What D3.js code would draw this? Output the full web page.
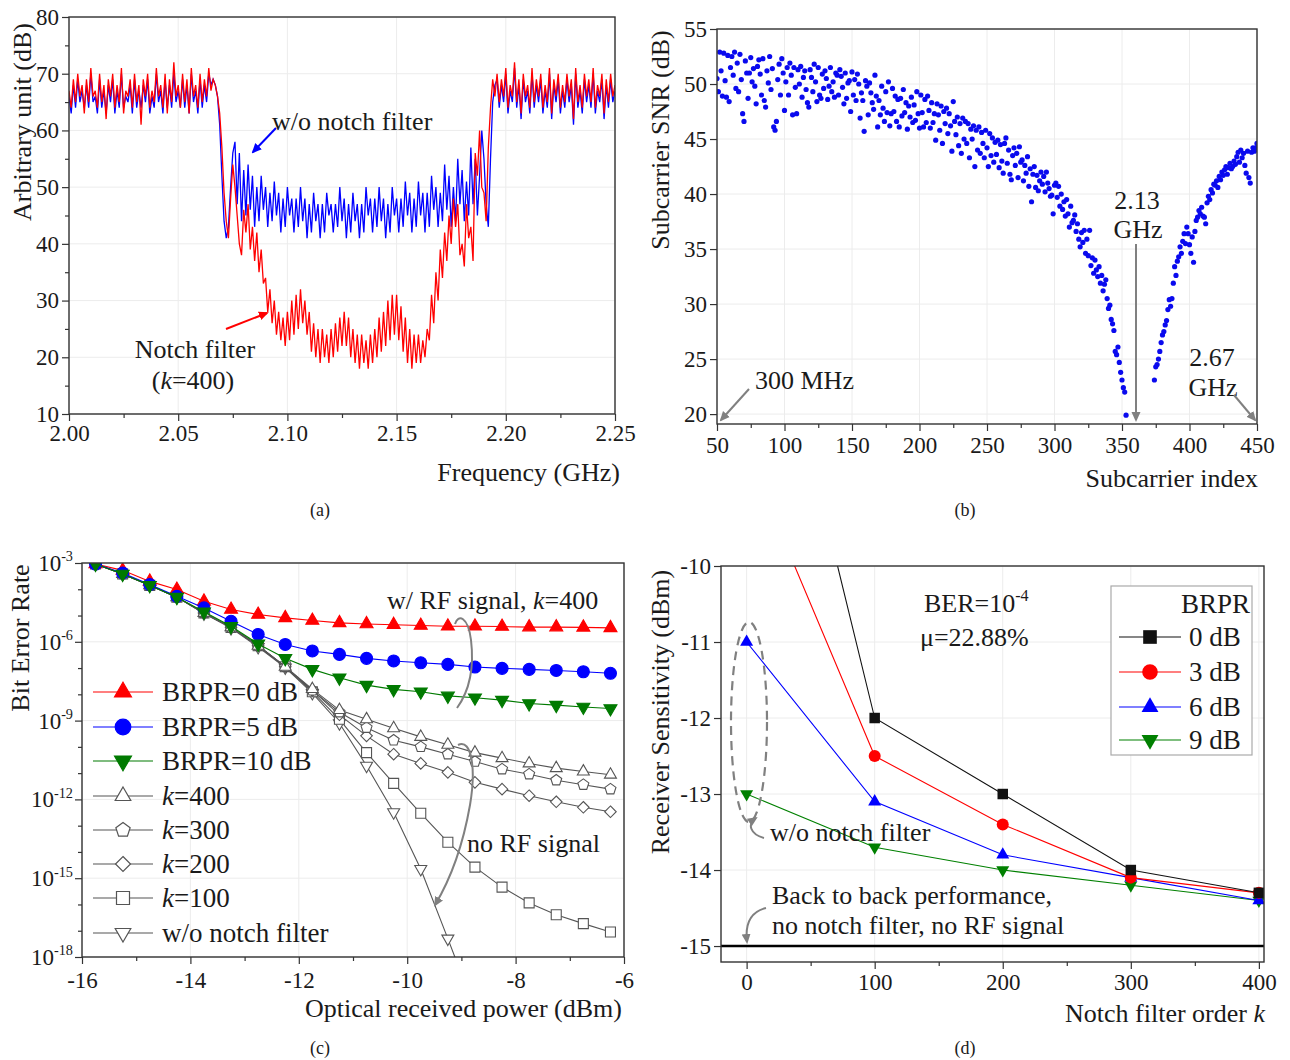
<!DOCTYPE html>
<html><head><meta charset="utf-8"><title>Notch filter results</title>
<script src="https://cdn.jsdelivr.net/npm/d3@7"></script>
<style>
html,body{margin:0;padding:0;background:#fff}
svg text{font-family:"Liberation Serif","Times New Roman",Times,serif;fill:#1a1a1a}
</style></head><body>
<script>
// ================= DATA =================
// (a) spectrum, sampled every 1 MHz from 2.000 to 2.250 GHz (dB)
const FREQ_START = 2.0, FREQ_END = 2.25;
const blueSpecLeft = [66,63,68,64,69,65,67,64,68,64,70,65,66,63,69,64,67,63,68,65,69,63,67,64,70,64,66,65,68,63,
  69,64,67,64,68,65,69,63,66,64,70,65,67,63,69,64,68,64,70,65,67,64,69,64,68,63,70,65,67,63,
  69,64,68,65,70,68,69,68];
const blueSpecNotch = [66,61,52,44,41,43,50,56,
  58,47,56,44,53,45, 54,46,52,43,50,44, 52,46,50,43,49,44, 51,45,49,42,48,43, 50,45,48,42,48,43,
  50,44,48,41,47,42, 49,44,47,41,47,42, 49,45,47,42,47,43, 50,44,48,41,47,42, 49,44,47,41,47,42,
  50,45,48,42,48,43, 50,44,48,41,47,42, 50,45,48,42,48,43, 51,45,49,42,48,43, 51,45,49,42,49,43,
  52,46,50,43,49,44, 54,46,52,43,50,44, 55,47,53,44,51,45, 57,47,55,45,52,60, 55,47,43,55,65,68];
const blueSpecRight = [69,64,68,65,70,63,67,65,71,64,68,62,69,65,67,63,70,64,68,65,69,63,67,64,70,62,68,65,69,63,
  67,64,69,65,68,61,70,64,67,63,69,65,68,64,70,63,67,65,69,62,68,64,69,65,67];
const redSpecLeft = [67,64,69,65,70,66,68,63,69,65,71,66,67,64,70,65,68,62,69,66,70,64,68,65,71,63,67,66,69,64,
  70,65,68,61,69,66,70,64,67,65,71,66,68,64,70,63,69,65,72,66,68,64,70,65,69,63,71,66,68,64,
  70,65,69,66,71,67,69,68];
const redSpecNotch = [66,63,57,49,44, 41,48,54,50,45,40,38,
  46,42,47,39,43,37,42,35,39,33, 34,28,32,26,30,24,28,23,27,22, 28,23,30,24,31,25,32,26,30,24,
  28,21,26,20,25,19,25,20,24,19, 25,20,26,21,27,22,28,22,27,20, 25,19,24,18,24,19,23,18,24,19,
  25,20,27,21,28,22,30,23,31,24, 31,23,29,21,27,19,25,18,24,19, 24,19,23,20,25,23,31,26,35,30,
  39,34,42,37,45,40,48,43,47,38, 40,36,47,41,43,37,56,52,60,50, 49,44,57,64,69,66];
const redSpecRight = [70,65,69,66,71,64,68,66,72,65,69,63,70,66,68,64,71,65,69,66,70,64,68,65,71,63,69,66,70,64,
  68,65,70,66,69,62,71,65,68,64,70,66,69,65,71,64,68,66,70,63,69,65,70,66,68];

// (b) subcarrier SNR (dB): indices 50..353 and 374..450
const snrLeftStart = 50;
const snrLeft = [
  50.5,49.3,52.9,51.2,48.9,52.8,50.3,48.8,52.6,48.4,
  51.5,52.5,50.8,52.9,49.6,51.9,49.3,52.7,50.4,47.3,
  46.6,52.1,51.0,48.7,51.0,52.4,50.2,51.4,49.8,48.2,
  51.6,52.2,50.9,49.0,52.3,48.5,47.9,51.2,50.1,52.5,
  49.5,51.4,46.1,45.8,46.6,50.4,51.8,49.0,52.3,51.0,
  47.6,50.2,51.5,49.0,51.9,50.8,47.2,51.5,49.7,47.3,
  51.3,50.0,51.6,48.8,50.6,51.2,49.5,48.3,47.9,51.3,
  50.6,49.3,51.8,50.2,48.4,51.5,49.0,48.7,50.9,49.6,
  51.2,50.5,48.6,49.8,51.5,49.3,50.2,48.8,51.0,50.8,
  49.0,51.3,50.7,49.7,48.2,51.0,48.7,50.1,50.3,47.5,
  51.1,49.0,50.4,48.5,50.9,50.0,46.9,49.2,48.5,45.7,
  50.3,49.8,47.2,50.1,49.2,48.3,47.7,50.8,48.9,46.1,
  48.5,47.2,49.8,47.8,46.6,49.3,47.4,50.2,46.2,47.3,
  49.6,47.5,48.9,46.6,48.6,46.1,48.7,47.1,49.5,47.4,
  48.3,45.9,48.0,47.0,48.8,46.5,48.1,46.7,49.3,47.3,
  46.0,49.0,47.4,46.1,48.6,46.5,48.9,47.6,46.0,48.3,
  46.5,47.3,44.9,48.2,47.2,45.8,48.0,44.6,47.5,46.4,
  47.8,45.5,47.3,46.2,43.9,48.4,46.6,45.4,47.0,44.4,
  46.4,43.7,46.9,45.0,46.6,44.6,46.4,43.3,45.9,45.0,
  46.2,42.5,45.8,44.0,46.1,43.7,45.6,44.6,43.3,45.8,
  44.2,42.5,45.5,43.5,45.1,42.9,44.7,43.6,44.9,42.4,
  44.5,43.0,41.9,44.6,45.1,42.8,44.0,41.8,41.3,43.5,
  44.2,42.6,43.7,41.5,44.3,42.9,43.1,41.2,42.6,41.9,
  43.4,40.7,42.3,39.3,41.8,42.5,40.6,41.7,40.3,41.2,
  42.0,40.9,41.6,40.2,42.0,41.0,40.5,39.8,39.9,38.2,
  40.8,41.0,39.7,40.7,38.9,40.0,38.6,39.3,38.0,39.5,
  38.2,37.0,38.9,37.4,37.6,38.1,36.6,37.3,35.9,35.2,
  36.5,35.6,36.7,34.6,35.9,34.4,36.7,33.5,34.2,32.8,
  34.0,33.1,32.5,33.4,31.9,32.6,31.2,31.8,32.2,30.5,
  29.6,29.9,28.6,28.2,27.6,25.7,25.4,26.1,24.7,23.8,
  23.1,22.4,22.0,19.9];
const snrRightStart = 374;
const snrRight = [
  23.1,24.3,24.5,25.0,25.7,26.5,27.2,27.5,28.1,28.5,
  29.5,30.4,29.8,30.5,31.9,33.4,32.6,33.9,34.3,35.2,
  34.6,35.7,36.4,35.5,37.0,36.4,35.4,34.6,36.1,33.8,
  36.6,37.6,37.9,38.5,38.2,38.8,38.0,37.9,37.3,39.2,
  39.8,39.5,40.4,40.1,40.9,40.8,41.2,40.6,41.6,41.3,
  42.0,41.7,42.2,42.5,41.8,42.4,42.8,42.3,42.5,43.0,
  42.7,43.4,43.8,42.9,44.0,43.3,43.7,42.6,41.9,43.9,
  41.5,41.0,43.8,44.2,43.9,44.2,44.6];

// (c) BER vs optical received power; values are log10(BER)
const powerC = [-15.75,-15.25,-14.75,-14.25,-13.75,-13.25,-12.75,-12.25,-11.75,-11.25,
                -10.75,-10.25,-9.75,-9.25,-8.75,-8.25,-7.75,-7.25,-6.75,-6.25];
const berBRPR0  = [-3.04,-3.28,-3.70,-4.01,-4.46,-4.77,-4.96,-5.09,-5.19,-5.28,-5.32,-5.35,-5.38,-5.41,-5.41,-5.42,-5.44,-5.44,-5.45,-5.47];
const berBRPR5  = [-3.04,-3.38,-3.82,-4.27,-4.71,-5.22,-5.72,-6.10,-6.35,-6.48,-6.63,-6.73,-6.80,-6.86,-6.96,-7.01,-7.05,-7.09,-7.14,-7.20];
const berBRPR10 = [-3.04,-3.42,-3.85,-4.30,-4.86,-5.41,-6.08,-6.63,-7.05,-7.37,-7.65,-7.81,-7.90,-8.06,-8.13,-8.22,-8.35,-8.41,-8.48,-8.54];
const berK400   = [-3.04,-3.42,-3.85,-4.30,-4.90,-5.45,-6.15,-6.95,-7.80,-8.60,-8.95,-9.29,-9.62,-9.92,-10.22,-10.43,-10.63,-10.81,-10.94,-11.06];
const berK300   = [-3.04,-3.42,-3.85,-4.30,-4.90,-5.45,-6.15,-6.95,-7.85,-8.68,-9.27,-9.75,-10.00,-10.28,-10.56,-10.85,-11.04,-11.27,-11.44,-11.61];
const berK200   = [-3.04,-3.42,-3.85,-4.30,-4.90,-5.45,-6.15,-6.95,-7.85,-8.78,-9.58,-10.28,-10.63,-10.97,-11.35,-11.61,-11.86,-12.09,-12.30,-12.47];
const berK100   = [-3.04,-3.42,-3.85,-4.30,-4.90,-5.45,-6.15,-6.95,-7.90,-8.95,-10.22,-11.39,-12.53,-13.63,-14.58,-15.34,-15.94,-16.39,-16.73,-17.05];
const berNoNotch= [-3.04,-3.42,-3.85,-4.30,-4.92,-5.48,-6.20,-6.98,-7.95,-9.10,-10.72,-12.49,-14.65,-17.30,-20.0];

// (d) receiver sensitivity (dBm) vs notch filter order k
const orderK = [0,100,200,300,400];
const sens0dB = [-5.1,-12.0,-13.0,-14.0,-14.3];
const sens3dB = [-8.5,-12.5,-13.4,-14.1,-14.3];
const sens6dB = [-11.0,-13.1,-13.8,-14.1,-14.4];
const sens9dB = [-13.0,-13.7,-14.0,-14.2,-14.4];
const backToBack = -15;

// tick values
const ticksA_x = [2.00,2.05,2.10,2.15,2.20,2.25], ticksA_xMinor = [2.025,2.075,2.125,2.175,2.225];
const ticksA_y = [10,20,30,40,50,60,70,80], ticksA_yMinor = [15,25,35,45,55,65,75];
const ticksB_x = [50,100,150,200,250,300,350,400,450], ticksB_xMinor = [75,125,175,225,275,325,375,425];
const ticksB_y = [20,25,30,35,40,45,50,55];
const ticksC_x = [-16,-14,-12,-10,-8,-6], ticksC_xMinor = [-15,-13,-11,-9,-7];
const ticksC_yExp = [-3,-6,-9,-12,-15,-18], ticksC_yMinorExp = [-4,-5,-7,-8,-10,-11,-13,-14,-16,-17];
const ticksD_x = [0,100,200,300,400], ticksD_xMinor = [50,150,250,350];
const ticksD_y = [-10,-11,-12,-13,-14,-15];

// ================= DRAWING =================
const FONT = "'Liberation Serif','Times New Roman',Times,serif";
const svg = d3.select("body").append("svg").attr("width",1290).attr("height",1060);
svg.append("rect").attr("width",1290).attr("height",1060).attr("fill","#fff");
const defs = svg.append("defs");
function arrowDef(id,color){
  defs.append("marker").attr("id",id).attr("viewBox","0 0 10 10").attr("refX",8).attr("refY",5)
    .attr("markerWidth",5).attr("markerHeight",5).attr("orient","auto")
    .append("path").attr("d","M0,0.5 L10,5 L0,9.5 Z").attr("fill",color);
}
arrowDef("arGray","#808080"); arrowDef("arBlue","#0000ff"); arrowDef("arRed","#ff0000");

let clipN = 0;
function panel(x,y){
  const g = svg.append("g");
  const [xl,xr] = x.range(), [yb,yt] = y.range();
  const id = "clip"+(clipN++);
  defs.append("clipPath").attr("id",id).append("rect").attr("x",xl).attr("y",yt).attr("width",xr-xl).attr("height",yb-yt);
  const grid = g.append("g").attr("stroke","#ececec").attr("stroke-width",1);
  const plot = g.append("g").attr("clip-path",`url(#${id})`);
  const axes = g.append("g");
  const ann = g.append("g");
  return {g,grid,plot,axes,ann,x,y,xl,xr,yb,yt};
}
function gridLines(p,xv,yv){
  p.grid.selectAll(null).data(xv).join("line").attr("x1",d=>p.x(d)).attr("x2",d=>p.x(d)).attr("y1",p.yb).attr("y2",p.yt);
  p.grid.selectAll(null).data(yv).join("line").attr("x1",p.xl).attr("x2",p.xr).attr("y1",d=>p.y(d)).attr("y2",d=>p.y(d));
}
const blank = () => "";
function styleAxis(sel){
  sel.attr("font-family",FONT).attr("font-size",23);
  sel.select(".domain").remove();
  sel.selectAll(".tick line").attr("stroke","#333").attr("stroke-width",1.2);
  sel.selectAll(".tick text").attr("fill","#1a1a1a");
}
function drawAxes(p,o){
  if(o.xMinor) p.axes.append("g").attr("transform",`translate(0,${p.yb})`)
    .call(d3.axisBottom(p.x).tickValues(o.xMinor).tickSize(4).tickSizeOuter(0).tickFormat(blank)).call(styleAxis);
  p.axes.append("g").attr("transform",`translate(0,${p.yb})`)
    .call(d3.axisBottom(p.x).tickValues(o.xMajor).tickSize(7).tickSizeOuter(0).tickPadding(o.padX).tickFormat(o.xFmt)).call(styleAxis);
  if(o.yMinor) p.axes.append("g").attr("transform",`translate(${p.xl},0)`)
    .call(d3.axisLeft(p.y).tickValues(o.yMinor).tickSize(4).tickSizeOuter(0).tickFormat(blank)).call(styleAxis);
  p.axes.append("g").attr("transform",`translate(${p.xl},0)`)
    .call(d3.axisLeft(p.y).tickValues(o.yMajor).tickSize(7).tickSizeOuter(0).tickPadding(o.padY).tickFormat(o.yFmt)).call(styleAxis);
  p.axes.append("rect").attr("x",p.xl).attr("y",p.yt).attr("width",p.xr-p.xl).attr("height",p.yb-p.yt)
    .attr("fill","none").attr("stroke","#333").attr("stroke-width",1.4);
}
function txt(parent,x,y,str,opt={}){
  const t = parent.append("text").attr("x",x).attr("y",y).attr("font-size",opt.size||26)
    .attr("text-anchor",opt.anchor||"start");
  if(opt.rotate) t.attr("transform",`rotate(-90,${x},${y})`);
  return t.text(str);
}
function rich(parent,x,y,parts,opt={}){
  const t = parent.append("text").attr("x",x).attr("y",y).attr("font-size",opt.size||26)
    .attr("text-anchor",opt.anchor||"start");
  if(opt.rotate) t.attr("transform",`rotate(-90,${x},${y})`);
  parts.forEach(([s,k])=>{
    const ts = t.append("tspan").text(s);
    if(k==="i") ts.attr("font-style","italic");
    if(k==="sup") ts.attr("font-size",(opt.size||26)*0.62).attr("dy",-(opt.size||26)*0.42);
  });
  return t;
}
function shape(type,w){
  const r = w/2;
  if(type==="circle") return d3.symbol(d3.symbolCircle, Math.PI*r*r)();
  if(type==="triUp"||type==="triDown"){
    const h = w*0.866, s = type==="triUp"?1:-1;
    return `M0,${-s*2*h/3}L${r},${s*h/3}L${-r},${s*h/3}Z`;
  }
  if(type==="square") return `M${-r},${-r}H${r}V${r}H${-r}Z`;
  if(type==="diamond") return `M0,${-r*1.05}L${r*1.05},0L0,${r*1.05}L${-r*1.05},0Z`;
  if(type==="pentagon"){
    const R = r*1.05;
    return d3.range(5).map(k=>{const a=(-90+72*k)*Math.PI/180;return (k?"L":"M")+(R*Math.cos(a)).toFixed(2)+","+(R*Math.sin(a)).toFixed(2);}).join("")+"Z";
  }
}

// ---------- (a) ----------
const xA = d3.scaleLinear().domain([FREQ_START,FREQ_END]).range([69,615]);
const yA = d3.scaleLinear().domain([10,80]).range([414,17]);
const pA = panel(xA,yA);
gridLines(pA,ticksA_x,ticksA_y);
const blueSpec = blueSpecLeft.concat(blueSpecNotch,blueSpecRight);
const redSpec = redSpecLeft.concat(redSpecNotch,redSpecRight);
function specLine(arr){
  const step = (FREQ_END-FREQ_START)/(arr.length-1);
  return d3.line().x((d,i)=>xA(FREQ_START+i*step)).y(d=>yA(d))(arr);
}
pA.plot.append("path").attr("d",specLine(blueSpec)).attr("fill","none").attr("stroke","#0000ff").attr("stroke-width",1.3);
pA.plot.append("path").attr("d",specLine(redSpec)).attr("fill","none").attr("stroke","#ff0000").attr("stroke-width",1.3);
drawAxes(pA,{xMajor:ticksA_x,xMinor:ticksA_xMinor,yMajor:ticksA_y,yMinor:ticksA_yMinor,padX:4,padY:3,
  xFmt:d3.format(".2f"),yFmt:d=>String(d)});
txt(pA.ann,272,130,"w/o notch filter");
pA.ann.append("line").attr("x1",276).attr("y1",128).attr("x2",253).attr("y2",152).attr("stroke","#0000ff").attr("stroke-width",2).attr("marker-end","url(#arBlue)");
pA.ann.append("line").attr("x1",226).attr("y1",329).attr("x2",267).attr("y2",313).attr("stroke","#ff0000").attr("stroke-width",2).attr("marker-end","url(#arRed)");
txt(pA.ann,195,358,"Notch filter",{anchor:"middle"});
rich(pA.ann,193,389,[["(",""],["k","i"],["=400)",""]],{anchor:"middle"});
rich(pA.ann,31,122,[["Arbitrary unit (dB)",""]],{anchor:"middle",rotate:true});
txt(pA.ann,620,481,"Frequency (GHz)",{anchor:"end"});
txt(pA.ann,320,516,"(a)",{anchor:"middle",size:18});

// ---------- (b) ----------
const xB = d3.scaleLinear().domain([50,450]).range([717,1257]);
const yB = d3.scaleLinear().domain([19.1,55]).range([424,29]);
const pB = panel(xB,yB);
gridLines(pB,ticksB_x,ticksB_y);
const snrPts = snrLeft.map((v,i)=>[snrLeftStart+i,v]).concat(snrRight.map((v,i)=>[snrRightStart+i,v]));
pB.plot.selectAll(null).data(snrPts).join("circle").attr("cx",d=>xB(d[0])).attr("cy",d=>yB(d[1])).attr("r",2.6).attr("fill","#0a0aee");
drawAxes(pB,{xMajor:ticksB_x,xMinor:ticksB_xMinor,yMajor:ticksB_y,padX:6,padY:3,xFmt:d=>String(d),yFmt:d=>String(d)});
txt(pB.ann,755,389,"300 MHz");
pB.ann.append("line").attr("x1",749).attr("y1",389).attr("x2",721).attr("y2",420).attr("stroke","#808080").attr("stroke-width",2).attr("marker-end","url(#arGray)");
txt(pB.ann,1137,209,"2.13",{anchor:"middle"});
txt(pB.ann,1138,238,"GHz",{anchor:"middle"});
pB.ann.append("line").attr("x1",1136).attr("y1",244).attr("x2",1136).attr("y2",420).attr("stroke","#808080").attr("stroke-width",2).attr("marker-end","url(#arGray)");
txt(pB.ann,1212,366,"2.67",{anchor:"middle"});
txt(pB.ann,1213,396,"GHz",{anchor:"middle"});
pB.ann.append("line").attr("x1",1234).attr("y1",395).attr("x2",1255).attr("y2",420).attr("stroke","#808080").attr("stroke-width",2).attr("marker-end","url(#arGray)");
rich(pB.ann,669,140,[["Subcarrier SNR (dB)",""]],{anchor:"middle",rotate:true});
txt(pB.ann,1258,487,"Subcarrier index",{anchor:"end"});
txt(pB.ann,965,516,"(b)",{anchor:"middle",size:18});

// ---------- (c) ----------
const xC = d3.scaleLinear().domain([-16,-6]).range([82,624]);
const yC = d3.scaleLog().domain([1e-18,1e-3]).range([957,563]);
const pC = panel(xC,yC);
gridLines(pC,ticksC_x,ticksC_yExp.map(e=>Math.pow(10,e)));
const seriesC = [
  {name:"w/o notch filter", v:berNoNotch, color:"#555", mk:"triDown", fill:"#fff", w:12},
  {name:"k=100", v:berK100, color:"#555", mk:"square", fill:"#fff", w:10},
  {name:"k=200", v:berK200, color:"#555", mk:"diamond", fill:"#fff", w:11},
  {name:"k=300", v:berK300, color:"#555", mk:"pentagon", fill:"#fff", w:11},
  {name:"k=400", v:berK400, color:"#555", mk:"triUp", fill:"#fff", w:12},
  {name:"BRPR=0 dB", v:berBRPR0, color:"#ff0000", mk:"triUp", fill:"#ff0000", w:13},
  {name:"BRPR=5 dB", v:berBRPR5, color:"#0000ff", mk:"circle", fill:"#0000ff", w:12},
  {name:"BRPR=10 dB", v:berBRPR10, color:"#007a00", mk:"triDown", fill:"#007a00", w:13}
];
const lineC = d3.line().x((d,i)=>xC(powerC[i])).y(d=>yC(Math.pow(10,d)));
seriesC.forEach(s=>{
  pC.plot.append("path").attr("d",lineC(s.v)).attr("fill","none").attr("stroke",s.color).attr("stroke-width",1.1);
  pC.plot.selectAll(null).data(s.v).join("path").attr("d",shape(s.mk,s.w))
    .attr("transform",(d,i)=>`translate(${xC(powerC[i])},${yC(Math.pow(10,d))})`)
    .attr("fill",s.fill).attr("stroke",s.fill==="#fff"?"#555":s.color).attr("stroke-width",1.1);
});
drawAxes(pC,{xMajor:ticksC_x,xMinor:ticksC_xMinor,yMajor:ticksC_yExp.map(e=>Math.pow(10,e)),
  yMinor:ticksC_yMinorExp.map(e=>Math.pow(10,e)),padX:8,padY:3,xFmt:d=>String(d),yFmt:blank});
ticksC_yExp.forEach(e=>{
  rich(pC.axes,73,yC(Math.pow(10,e))+8,[["10",""],[String(e),"sup"]],{anchor:"end",size:23});
});
const legC = [
  {lab:[["BRPR=0 dB",""]], s:seriesC[5]},
  {lab:[["BRPR=5 dB",""]], s:seriesC[6]},
  {lab:[["BRPR=10 dB",""]], s:seriesC[7]},
  {lab:[["k","i"],["=400",""]], s:seriesC[4]},
  {lab:[["k","i"],["=300",""]], s:seriesC[3]},
  {lab:[["k","i"],["=200",""]], s:seriesC[2]},
  {lab:[["k","i"],["=100",""]], s:seriesC[1]},
  {lab:[["w/o notch filter",""]], s:seriesC[0]}
];
const legCy = [692,727,761,796,830,864,898,933];
legC.forEach((L,i)=>{
  const y = legCy[i];
  pC.ann.append("line").attr("x1",93).attr("x2",153).attr("y1",y).attr("y2",y).attr("stroke",L.s.color).attr("stroke-width",1.2);
  pC.ann.append("path").attr("d",shape(L.s.mk,L.s.w*1.3)).attr("transform",`translate(123,${y})`)
    .attr("fill",L.s.fill).attr("stroke",L.s.fill==="#fff"?"#555":L.s.color).attr("stroke-width",1.2);
  rich(pC.ann,162,y+9,L.lab,{size:27});
});
rich(pC.ann,387,609,[["w/ RF signal, ",""],["k","i"],["=400",""]]);
pC.ann.append("path").attr("d","M455,624 C458,614 468,616 471,640 C474,665 470,690 457,708")
  .attr("fill","none").attr("stroke","#808080").attr("stroke-width",2);
pC.ann.append("path").attr("d","M458,745 C472,738 476,770 470,805 C463,845 450,880 435,905")
  .attr("fill","none").attr("stroke","#808080").attr("stroke-width",2).attr("marker-end","url(#arGray)");
txt(pC.ann,467,852,"no RF signal");
rich(pC.ann,29,638,[["Bit Error Rate",""]],{anchor:"middle",rotate:true});
txt(pC.ann,622,1017,"Optical received power (dBm)",{anchor:"end"});
txt(pC.ann,320,1054,"(c)",{anchor:"middle",size:18});

// ---------- (d) ----------
const xD = d3.scaleLinear().domain([-20,404]).range([721,1264]);
const yD = d3.scaleLinear().domain([-15.21,-10]).range([962,566]);
const pD = panel(xD,yD);
gridLines(pD,ticksD_x,ticksD_y);
pD.plot.append("line").attr("x1",pD.xl).attr("x2",pD.xr).attr("y1",yD(backToBack)).attr("y2",yD(backToBack))
  .attr("stroke","#000").attr("stroke-width",2.6);
const seriesD = [
  {v:sens9dB, color:"#008000", mk:"triDown", w:13, lab:"9 dB"},
  {v:sens6dB, color:"#0000ff", mk:"triUp", w:13, lab:"6 dB"},
  {v:sens3dB, color:"#ff0000", mk:"circle", w:12, lab:"3 dB"},
  {v:sens0dB, color:"#111", mk:"square", w:10.5, lab:"0 dB"}
];
const lineD = d3.line().x((d,i)=>xD(orderK[i])).y(d=>yD(d));
seriesD.forEach(s=>{
  pD.plot.append("path").attr("d",lineD(s.v)).attr("fill","none").attr("stroke",s.color).attr("stroke-width",1.1);
  pD.plot.selectAll(null).data(s.v).join("path").attr("d",shape(s.mk,s.w))
    .attr("transform",(d,i)=>`translate(${xD(orderK[i])},${yD(d)})`).attr("fill",s.color);
});
drawAxes(pD,{xMajor:ticksD_x,xMinor:ticksD_xMinor,yMajor:ticksD_y,padX:5,padY:3,xFmt:d=>String(d),yFmt:d=>String(d)});
pD.ann.append("rect").attr("x",1111).attr("y",586).attr("width",141).attr("height",169).attr("fill","#fff").attr("stroke","#aaa").attr("stroke-width",1.2);
txt(pD.ann,1250,613,"BRPR",{anchor:"end",size:27});
const legDy = [637,672,707,740];
[3,2,1,0].forEach((si,i)=>{
  const s = seriesD[si], y = legDy[i];
  pD.ann.append("line").attr("x1",1119).attr("x2",1181).attr("y1",y).attr("y2",y).attr("stroke",s.color).attr("stroke-width",1.2);
  pD.ann.append("path").attr("d",shape(s.mk,s.w*1.3)).attr("transform",`translate(1150,${y})`).attr("fill",s.color);
  txt(pD.ann,1189,y+9,s.lab,{size:27});
});
rich(pD.ann,924,612,[["BER=10",""],["-4","sup"]]);
txt(pD.ann,920,646,"\u03bc=22.88%");
pD.ann.append("ellipse").attr("cx",749).attr("cy",722).attr("rx",18).attr("ry",100)
  .attr("fill","none").attr("stroke","#808080").attr("stroke-width",2.2).attr("stroke-dasharray","9,6");
pD.ann.append("path").attr("d","M764,838 C750,834 747,824 756,818").attr("fill","none").attr("stroke","#808080").attr("stroke-width",2).attr("marker-end","url(#arGray)");
txt(pD.ann,770,841,"w/o notch filter");
txt(pD.ann,772,904,"Back to back performance,");
txt(pD.ann,772,934,"no notch filter, no RF signal");
pD.ann.append("path").attr("d","M766,908 C750,912 745,925 747,942").attr("fill","none").attr("stroke","#808080").attr("stroke-width",2).attr("marker-end","url(#arGray)");
rich(pD.ann,669,712,[["Receiver Sensitivity (dBm)",""]],{anchor:"middle",rotate:true});
rich(pD.ann,1265,1022,[["Notch filter order ",""],["k","i"]],{anchor:"end"});
txt(pD.ann,965,1054,"(d)",{anchor:"middle",size:18});
</script>
</body></html>
